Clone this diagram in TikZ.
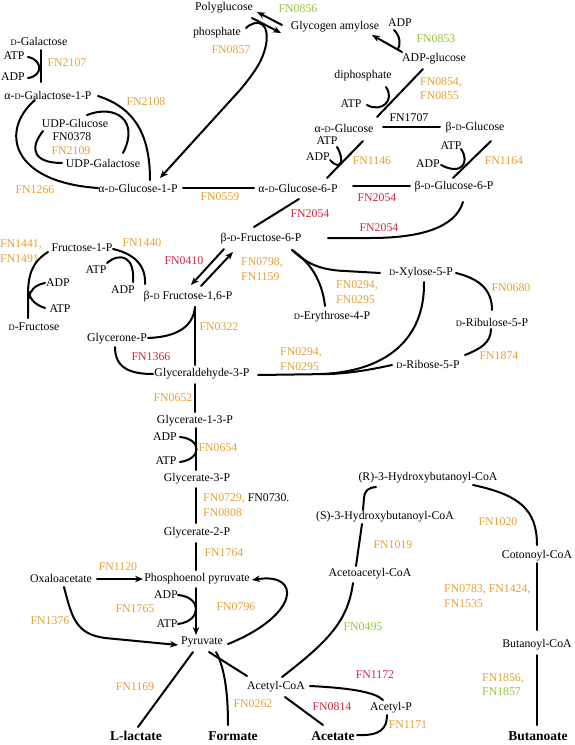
\documentclass[tikz,border=0pt]{standalone}
\usepackage{fontspec}
\setmainfont{Liberation Serif}
\usetikzlibrary{arrows.meta}
\definecolor{fnorange}{RGB}{232,160,55}
\definecolor{fngreen}{RGB}{150,195,60}
\definecolor{fnred}{RGB}{210,40,60}
\newcommand\smD{{\fontsize{8.5}{9}\selectfont D}}
\tikzset{
  lbl/.style={font=\fontsize{11.8}{14.5}\selectfont, inner sep=0pt, text=black},
  fo/.style={lbl, text=fnorange},
  fg/.style={lbl, text=fngreen},
  fr/.style={lbl, text=fnred},
  endp/.style={font=\bfseries\fontsize{13.5}{15}\selectfont, inner sep=0pt},
  con/.style={line width=2pt, line cap=round},
  arr/.style={con, -{Stealth[length=8pt,width=6.5pt]}},
}
\begin{document}
\begin{tikzpicture}[x=1pt,y=-1pt]
\fill[white] (0,0) rectangle (574,745);
\useasboundingbox (0,0) rectangle (574,745);
% ---------- labels ----------
\node[lbl] (polyg) at (224,8) {Polyglucose};
\node[fg] (fn0856) at (298,9) {FN0856};
\node[lbl] (glyam) at (335,27) {Glycogen amylose};
\node[lbl] (phos) at (217,33) {phosphate};
\node[fo] (fn0857) at (231,50) {FN0857};
\node[lbl] (adp1) at (400,23) {ADP};
\node[fg] (fn0853) at (436,39) {FN0853};
\node[lbl] (adpglc) at (434,59) {ADP-glucose};
\node[lbl] (diphos) at (363,76) {diphosphate};
\node[fo, align=left, anchor=west] (fn0854) at (420,88.5) {FN0854,\\FN0855};
\node[lbl] (atp1) at (351,104) {ATP};
\node[lbl] (aglc) at (344,128) {α-\smD-Glucose};
\node[lbl] (fn1707) at (409,118) {FN1707};
\node[lbl] (bglc) at (475,128) {β-\smD-Glucose};
\node[lbl] (atp2) at (327,141) {ATP};
\node[lbl] (adp2) at (318,157) {ADP};
\node[fo] (fn1146) at (372,161) {FN1146};
\node[lbl] (atp3) at (451,146) {ATP};
\node[lbl] (adp3) at (428,164) {ADP};
\node[fo] (fn1164) at (504,161) {FN1164};
\node[lbl] (ag6p) at (298,188) {α-\smD-Glucose-6-P};
\node[lbl] (bg6p) at (454,187) {β-\smD-Glucose-6-P};
\node[fr] (fn2054a) at (377,198) {FN2054};
\node[fo] (fn0559) at (220,197) {FN0559};
\node[fr] (fn2054b) at (310,214) {FN2054};
\node[fr] (fn2054c) at (379,228) {FN2054};
\node[lbl] (bf6p) at (261,239) {β-\smD-Fructose-6-P};
\node[lbl] (dgal) at (39,41) {\smD-Galactose};
\node[lbl] (atp4) at (14,56) {ATP};
\node[lbl] (adp4) at (13,77) {ADP};
\node[fo] (fn2107) at (67,63) {FN2107};
\node[lbl] (agal1p) at (48,95) {α-\smD-Galactose-1-P};
\node[fo] (fn2108) at (146,102) {FN2108};
\node[lbl] (udpglc) at (75,123) {UDP-Glucose};
\node[lbl] (fn0378) at (72,137) {FN0378};
\node[fo] (fn2109) at (71,151) {FN2109};
\node[lbl] (udpgal) at (103,163) {UDP-Galactose};
\node[lbl] (ag1p) at (138,188) {α-\smD-Glucose-1-P};
\node[fo] (fn1266) at (35,190) {FN1266};
\node[fo, align=left, anchor=west] (fn1441) at (0,251) {FN1441,\\FN1491};
\node[lbl] (f1p) at (82,248) {Fructose-1-P};
\node[fo] (fn1440) at (142,243) {FN1440};
\node[lbl] (atp5) at (96,270) {ATP};
\node[lbl] (adp5) at (58,283) {ADP};
\node[lbl] (atp6) at (60,309) {ATP};
\node[lbl] (adp6) at (123,290) {ADP};
\node[lbl] (dfru) at (34,327) {\smD-Fructose};
\node[lbl] (f16p) at (188,297) {β-\smD\ Fructose-1,6-P};
\node[fr] (fn0410) at (184,261) {FN0410};
\node[fo, align=left, anchor=west] (fn0798) at (241,269) {FN0798,\\FN1159};
\node[fo] (fn0322) at (219,327) {FN0322};
\node[lbl] (gnp) at (117,339) {Glycerone-P};
\node[fr] (fn1366) at (151,357) {FN1366};
\node[lbl] (ga3p) at (202,374) {Glyceraldehyde-3-P};
\node[fo] (fn0652) at (173,398) {FN0652};
\node[lbl] (xyl) at (421,273) {\smD-Xylose-5-P};
\node[fo, align=left, anchor=west] (fn0294a) at (336,292) {FN0294,\\FN0295};
\node[lbl] (ery) at (332,317) {\smD-Erythrose-4-P};
\node[fo] (fn0680) at (511,288) {FN0680};
\node[lbl] (rbl) at (492,322) {\smD-Ribulose-5-P};
\node[fo] (fn1874) at (499,356) {FN1874};
\node[lbl] (rib) at (428,364) {\smD-Ribose-5-P};
\node[fo, align=left, anchor=west] (fn0294b) at (280,359) {FN0294,\\FN0295};
\node[lbl] (g13p) at (195,421) {Glycerate-1-3-P};
\node[lbl] (adp7) at (165,437) {ADP};
\node[fo] (fn0654) at (218,448) {FN0654};
\node[lbl] (atp7) at (166,461) {ATP};
\node[lbl] (g3p) at (197,479) {Glycerate-3-P};
\node[lbl, align=left, anchor=west] (fn0729) at (203,505) {{\color{fnorange}FN0729,} FN0730.\\{\color{fnorange}FN0808}};
\node[lbl] (g2p) at (197,533) {Glycerate-2-P};
\node[fo] (fn1764) at (224,553) {FN1764};
\node[lbl] (oxa) at (61,578) {Oxaloacetate};
\node[fo] (fn1120) at (118,567) {FN1120};
\node[lbl] (pep) at (197,579) {Phosphoenol pyruvate};
\node[lbl] (adp8) at (166,595) {ADP};
\node[fo] (fn1765) at (135,609) {FN1765};
\node[lbl] (atp8) at (167,624) {ATP};
\node[fo] (fn0796) at (236,607) {FN0796};
\node[fo] (fn1376) at (50,621) {FN1376};
\node[lbl] (pyr) at (202,642) {Pyruvate};
\node[fo] (fn1169) at (135,687) {FN1169};
\node[lbl] (accoa) at (276,687) {Acetyl-CoA};
\node[fo] (fn0262) at (253,704) {FN0262};
\node[endp] (lac) at (136,736) {L-lactate};
\node[endp] (form) at (233,736) {Formate};
\node[endp] (acet) at (333,736) {Acetate};
\node[endp] (buta) at (538,736) {Butanoate};
\node[lbl] (acp) at (391,708) {Acetyl-P};
\node[fr] (fn1172) at (375,675) {FN1172};
\node[fr] (fn0814) at (332,707) {FN0814};
\node[fo] (fn1171) at (408,725) {FN1171};
\node[lbl] (rhb) at (428,478) {(R)-3-Hydroxybutanoyl-CoA};
\node[lbl] (shb) at (385,517) {(S)-3-Hydroxybutanoyl-CoA};
\node[fo] (fn1019) at (393,545) {FN1019};
\node[lbl] (aacoa) at (370,574) {Acetoacetyl-CoA};
\node[fg] (fn0495) at (363,627) {FN0495};
\node[fo] (fn1020) at (498,522) {FN1020};
\node[lbl] (cot) at (537,556) {Cotonoyl-CoA};
\node[fo, align=left, anchor=west] (fn0783) at (444,596) {FN0783, FN1424,\\FN1535};
\node[lbl] (butcoa) at (537,645) {Butanoyl-CoA};
\node[lbl, align=left, anchor=west] (fn1856) at (482,684.5) {{\color{fnorange}FN1856,}\\{\color{fngreen}FN1857}};
% ---------- connector end points ----------
\coordinate (pgA) at (282,25); \coordinate (pgB) at (257,12);
\coordinate (pgC) at (252,18); \coordinate (pgD) at (281,33);
\coordinate (phA) at (246,28); \coordinate (phB) at (160,178);
\coordinate (gaA) at (402,52); \coordinate (gaB) at (372,35); \coordinate (gaH) at (394,30); \coordinate (gaI) at (398,49);
\coordinate (agA) at (423,69); \coordinate (agB) at (377,117); \coordinate (agH) at (386,87); \coordinate (agI) at (367,105);
\coordinate (glA) at (383,127); \coordinate (glB) at (440,127);
\coordinate (hkA) at (363,141); \coordinate (hkB) at (327,178); \coordinate (hkH) at (337,147); \coordinate (hkI) at (330,160);
\coordinate (hbA) at (491,141); \coordinate (hbB) at (453,178); \coordinate (hbH) at (461,149); \coordinate (hbI) at (441,165);
\coordinate (g6A) at (353,186); \coordinate (g6B) at (410,186);
\coordinate (g1A) at (183,188); \coordinate (g1B) at (254,188);
\coordinate (f6A) at (299,199); \coordinate (f6B) at (254,227);
\coordinate (bfA) at (463,202); \coordinate (bfB) at (328,238);
\coordinate (tkA) at (292,250); \coordinate (tkB) at (380,273); \coordinate (tkC) at (325,306);
\coordinate (frA) at (224,249); \coordinate (frB) at (191,285);
\coordinate (frC) at (201,286); \coordinate (frD) at (233,252);
\coordinate (alA) at (195,307); \coordinate (alB) at (195,365); \coordinate (alC) at (148,338);
\coordinate (tiA) at (115,347); \coordinate (tiB) at (153,374);
\coordinate (gpA) at (195,384); \coordinate (gpB) at (195,412);
\coordinate (kfA) at (48,252); \coordinate (kfB) at (28,318);
\coordinate (kfH) at (45,283); \coordinate (kfI) at (29,298);
\coordinate (kfJ) at (45,308); \coordinate (kfK) at (29,292);
\coordinate (f1A) at (113,249); \coordinate (f1B) at (145,284);
\coordinate (f1H) at (107,263); \coordinate (f1I) at (133,282);
\coordinate (gkA) at (41,50); \coordinate (gkB) at (41,82); \coordinate (gkH) at (28,57); \coordinate (gkI) at (28,78);
\coordinate (pmA) at (35,100); \coordinate (pmB) at (98,188);
\coordinate (utA) at (98,96); \coordinate (utB) at (150,180);
\coordinate (udA) at (87,115); \coordinate (udB) at (123,153);
\coordinate (ueA) at (43,131); \coordinate (ueB) at (62,163);
\coordinate (rpA) at (456,273); \coordinate (rpB) at (492,310);
\coordinate (riA) at (491,329); \coordinate (riB) at (465,355);
\coordinate (trA) at (258,375); \coordinate (trB) at (392,365);
\coordinate (xyA) at (424,282); \coordinate (xyB) at (320,374);
\coordinate (pgkA) at (196,428); \coordinate (pgkB) at (196,470); \coordinate (pgkH) at (180,437); \coordinate (pgkI) at (180,462);
\coordinate (gmA) at (196,488); \coordinate (gmB) at (196,523);
\coordinate (enA) at (196,543); \coordinate (enB) at (196,570);
\coordinate (pkA) at (196,588); \coordinate (pkB) at (196,635); \coordinate (pkH) at (178,595); \coordinate (pkI) at (178,624);
\coordinate (oxA) at (97,579); \coordinate (oxB) at (143,579);
\coordinate (odA) at (64,587); \coordinate (odB) at (178,645);
\coordinate (ppA) at (228,644); \coordinate (ppB) at (252,580);
\coordinate (ldA) at (193,652); \coordinate (ldB) at (138,727);
\coordinate (pfA) at (216,652); \coordinate (pfB) at (228,725);
\coordinate (paA) at (209,652); \coordinate (paB) at (247,676);
\coordinate (acA) at (285,697); \coordinate (acB) at (323,725);
\coordinate (thA) at (282,677); \coordinate (thB) at (353,583);
\coordinate (ptA) at (310,686); \coordinate (ptB) at (383,700);
\coordinate (akA) at (387,715); \coordinate (akB) at (357,735);
\coordinate (hdA) at (356,566); \coordinate (hdB) at (362,524);
\coordinate (epA) at (363,510); \coordinate (epB) at (376,487);
\coordinate (crA) at (473,485); \coordinate (crB) at (537,545);
\coordinate (bcA) at (537,563); \coordinate (bcB) at (537,630);
\coordinate (btA) at (537,655); \coordinate (btB) at (537,725);
% ---------- connectors ----------
\draw[arr] (pgA) -- (pgB);
\draw[arr] (pgC) -- (pgD);
\draw[arr] (phA) .. controls (257,18) and (270,22) .. (266,45) .. controls (263,60) and (255,72) .. (240,90) -- (phB);
\draw[arr] (gaA) -- (gaB);
\draw[con] (gaH) .. controls (400,36) and (401,44) .. (gaI);
\draw[con] (agA) -- (agB);
\draw[con] (agH) .. controls (395,100) and (382,113) .. (agI);
\draw[con] (glA) -- (glB);
\draw[con] (hkA) -- (hkB);
\draw[con] (hkH) .. controls (345,160) and (341,172) .. (hkI);
\draw[con] (hbA) -- (hbB);
\draw[con] (hbH) .. controls (470,162) and (462,176) .. (hbI);
\draw[con] (g6A) -- (g6B);
\draw[con] (g1A) -- (g1B);
\draw[con] (f6A) -- (f6B);
\draw[con] (bfA) .. controls (455,228) and (420,238) .. (370,238) -- (bfB);
\draw[con] (tkA) .. controls (305,262) and (318,270) .. (345,271) -- (tkB);
\draw[con] (tkA) .. controls (310,262) and (322,280) .. (tkC);
\draw[arr] (frA) -- (frB);
\draw[arr] (frC) -- (frD);
\draw[con] (alA) -- (alB);
\draw[con] (alA) .. controls (193,328) and (175,337) .. (alC);
\draw[con] (tiA) .. controls (115,368) and (130,374) .. (tiB);
\draw[con] (gpA) -- (gpB);
\draw[con] (kfA) .. controls (32,262) and (28,275) .. (28,295) -- (kfB);
\draw[con] (kfH) .. controls (35,285) and (30,290) .. (kfI);
\draw[con] (kfJ) .. controls (36,305) and (30,300) .. (kfK);
\draw[con] (f1A) .. controls (135,254) and (146,266) .. (f1B);
\draw[con] (f1H) .. controls (120,252) and (135,256) .. (f1I);
\draw[con] (gkA) -- (gkB);
\draw[con] (gkH) .. controls (43,60) and (43,76) .. (gkI);
\draw[con] (pmA) .. controls (0,130) and (10,182) .. (pmB);
\draw[con] (utA) .. controls (135,108) and (150,135) .. (utB);
\draw[con] (udA) .. controls (115,104) and (140,120) .. (udB);
\draw[con] (ueA) .. controls (28,150) and (35,163) .. (ueB);
\draw[con] (rpA) .. controls (480,279) and (492,290) .. (rpB);
\draw[con] (riA) .. controls (491,343) and (480,349) .. (riB);
\draw[con] (trA) -- (330,374) .. controls (355,373) and (378,368) .. (trB);
\draw[con] (xyA) .. controls (425,340) and (385,372) .. (xyB);
\draw[con] (pgkA) -- (pgkB);
\draw[con] (pgkH) .. controls (202,439) and (202,459) .. (pgkI);
\draw[con] (gmA) -- (gmB);
\draw[con] (enA) -- (enB);
\draw[arr] (pkA) -- (pkB);
\draw[con] (pkH) .. controls (202,597) and (202,621) .. (pkI);
\draw[arr] (oxA) -- (oxB);
\draw[arr] (odA) .. controls (72,618) and (76,634) .. (105,638) -- (odB);
\draw[arr] (ppA) .. controls (300,615) and (302,572) .. (ppB);
\draw[con] (ldA) -- (ldB);
\draw[con] (pfA) .. controls (226,670) and (228,700) .. (pfB);
\draw[con] (paA) -- (paB);
\draw[con] (acA) -- (acB);
\draw[con] (thA) .. controls (330,640) and (348,620) .. (thB);
\draw[con] (ptA) .. controls (350,688) and (375,692) .. (ptB);
\draw[con] (akA) .. controls (387,729) and (380,736) .. (akB);
\draw[con] (hdA) -- (hdB);
\draw[con] (epA) -- (364,498) .. controls (365,490) and (368,488) .. (epB);
\draw[con] (crA) .. controls (520,495) and (537,510) .. (crB);
\draw[con] (bcA) -- (bcB);
\draw[con] (btA) -- (btB);
\end{tikzpicture}
\end{document}
